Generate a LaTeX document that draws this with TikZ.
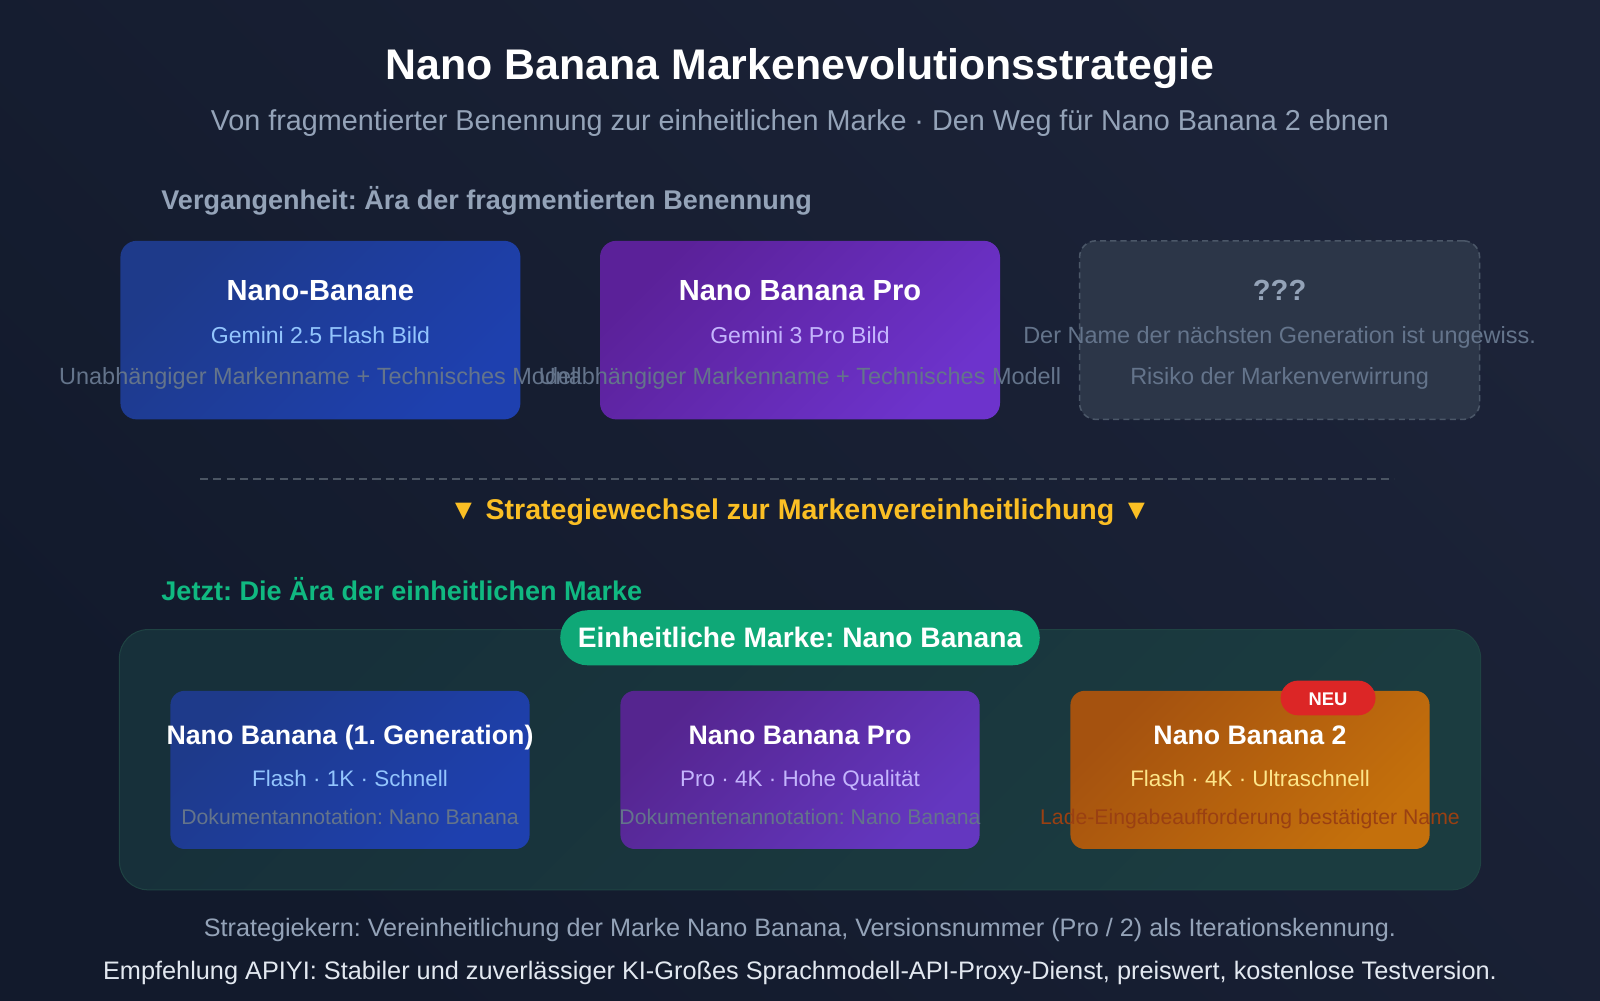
\documentclass[tikz,border=0pt]{standalone}
\usepackage{fontspec}
\setmainfont{Liberation Sans}
\usetikzlibrary{shapes.misc}
\frenchspacing
\definecolor{bgA}{HTML}{121A2C}
\definecolor{bgB}{HTML}{1C2338}
\definecolor{blueA}{HTML}{1E3A8A}
\definecolor{blueB}{HTML}{1E40AF}
\definecolor{purA}{HTML}{5B2199}
\definecolor{purB}{HTML}{6D33CC}
\definecolor{grayBox}{HTML}{2C3648}
\definecolor{grayLine}{HTML}{4B5768}
\definecolor{contA}{HTML}{17303A}
\definecolor{contB}{HTML}{1B3C40}
\definecolor{contLine}{HTML}{1F4343}
\definecolor{pill}{HTML}{0FA877}
\definecolor{ipurA}{HTML}{55258F}
\definecolor{ipurB}{HTML}{6437C0}
\definecolor{orA}{HTML}{A5520F}
\definecolor{orB}{HTML}{C4700C}
\definecolor{neu}{HTML}{DC2626}
\definecolor{slateF}{HTML}{94A3B8}
\definecolor{slateG}{HTML}{64748B}
\definecolor{lblue}{HTML}{93C5FD}
\definecolor{lviolet}{HTML}{C4B5FD}
\definecolor{lamber}{HTML}{FDE68A}
\definecolor{dorange}{HTML}{9A4012}
\definecolor{amber}{HTML}{FBBF24}
\definecolor{emerald}{HTML}{10B981}
\definecolor{footL}{HTML}{E2E8F0}
\definecolor{dashC}{HTML}{4B5563}
\tikzset{
  fs/.style={font=\fontsize{#1}{#1}\selectfont},
  fsb/.style={font=\fontsize{#1}{#1}\selectfont\bfseries},
  txt/.style={anchor=base, inner sep=0pt},
  card/.style={rounded corners=16pt, minimum width=392pt, minimum height=175pt, inner sep=0pt, draw=none},
  icard/.style={rounded corners=14pt, minimum width=352pt, minimum height=155pt, inner sep=0pt, draw=none},
}
\begin{document}
\begin{tikzpicture}[x=1pt,y=-1pt]
\useasboundingbox (0,0) rectangle (1568,980);
\shade[left color=bgA, right color=bgB, shading angle=135] (0,0) rectangle (1568,980);

% title
\node[txt, fsb=42, text=white] (title) at (784,78) {Nano Banana Markenevolutionsstrategie};
\node[txt, fs=28.2, text=slateF] (subtitle) at (784,128) {Von fragmentierter Benennung zur einheitlichen Marke · Den Weg für Nano Banana 2 ebnen};

% past section
\node[txt, anchor=base west, fsb=26.5, text=slateF] (past) at (158,205.5) {Vergangenheit: Ära der fragmentierten Benennung};

\node[card, left color=blueA, right color=blueB, shading angle=45] (b1) at (314,323.5) {};
\node[card, left color=purA, right color=purB, shading angle=45] (b2) at (784,323.5) {};
\node[card, fill=grayBox, draw=grayLine, dashed, dash pattern=on 6pt off 4pt, line width=1.5pt] (b3) at (1254,323.5) {};

\node[txt, fsb=28.5, text=white] (b1t) at (314,294) {Nano-Banane};
\node[txt, fs=22.6, text=lblue] (b1s) at (314,337) {Gemini 2.5 Flash Bild};
\node[txt, fs=23, text=slateG] (b1n) at (314,377) {Unabhängiger Markenname + Technisches Modell};

\node[txt, fsb=28.5, text=white] (b2t) at (784,294) {Nano Banana Pro};
\node[txt, fs=22.6, text=lviolet] (b2s) at (784,337) {Gemini 3 Pro Bild};
\node[txt, fs=23, text=slateG] (b2n) at (784,377) {Unabhängiger Markenname + Technisches Modell};

\node[txt, fsb=28.5, text=slateF] (b3t) at (1254,294) {???};
\node[txt, fs=23, text=slateG] (b3s) at (1254,337) {Der Name der nächsten Generation ist ungewiss.};
\node[txt, fs=23, text=slateG] (b3n) at (1254,377) {Risiko der Markenverwirrung};

% divider
\coordinate (dl) at (196,469);
\coordinate (dr) at (1366,469);
\draw[dashC, line width=2pt, dash pattern=on 8pt off 5pt] (dl) -- (dr);
\node[txt, fsb=28, text=amber] (shift) at (784,509) {▼ Strategiewechsel zur Markenvereinheitlichung ▼};

% present section
\node[txt, anchor=base west, fsb=26.5, text=emerald] (now) at (158,588.5) {Jetzt: Die Ära der einheitlichen Marke};

\node[rounded corners=28pt, minimum width=1334pt, minimum height=255pt, inner sep=0pt, left color=contA, right color=contB, shading angle=45, draw=contLine, line width=1pt] (cont) at (784,744.5) {};

\node[rounded corners=27pt, minimum width=470pt, minimum height=54pt, inner sep=0pt, fill=pill] (pillbox) at (784,625) {};
\node[txt, fsb=27.6, text=white] (pillt) at (784,635) {Einheitliche Marke: Nano Banana};

\node[icard, left color=blueA, right color=blueB, shading angle=45] (i1) at (343,754.5) {};
\node[icard, left color=ipurA, right color=ipurB, shading angle=45] (i2) at (784,754.5) {};
\node[icard, left color=orA, right color=orB, shading angle=45] (i3) at (1225,754.5) {};

\node[rounded corners=17pt, minimum width=93pt, minimum height=34pt, inner sep=0pt, fill=neu] (neubox) at (1301.5,684) {};
\node[txt, fsb=18, text=white] (neut) at (1301.5,691) {NEU};

\node[txt, fsb=26.2, text=white] (i1t) at (343,729.5) {Nano Banana (1. Generation)};
\node[txt, fs=22, text=lblue] (i1s) at (343,771) {Flash · 1K · Schnell};
\node[txt, fs=20.8, text=slateG] (i1n) at (343,808.4) {Dokumentannotation: Nano Banana};

\node[txt, fsb=26.2, text=white] (i2t) at (784,729.5) {Nano Banana Pro};
\node[txt, fs=22, text=lviolet] (i2s) at (784,771) {Pro · 4K · Hohe Qualität};
\node[txt, fs=20.8, text=slateG] (i2n) at (784,808.4) {Dokumentenannotation: Nano Banana};

\node[txt, fsb=26.2, text=white] (i3t) at (1225,729.5) {Nano Banana 2};
\node[txt, fs=22, text=lamber] (i3s) at (1225,771) {Flash · 4K · Ultraschnell};
\node[txt, fs=20.8, text=dorange] (i3n) at (1225,808.4) {Lade-Eingabeaufforderung bestätigter Name};

% footer
\node[txt, fs=24.7, text=slateF] (f1) at (784,918) {Strategiekern: Vereinheitlichung der Marke Nano Banana, Versionsnummer (Pro / 2) als Iterationskennung.};
\node[txt, fs=24.8, text=footL] (f2) at (784,960) {Empfehlung APIYI: Stabiler und zuverlässiger KI-Großes Sprachmodell-API-Proxy-Dienst, preiswert, kostenlose Testversion.};
\end{tikzpicture}
\end{document}
